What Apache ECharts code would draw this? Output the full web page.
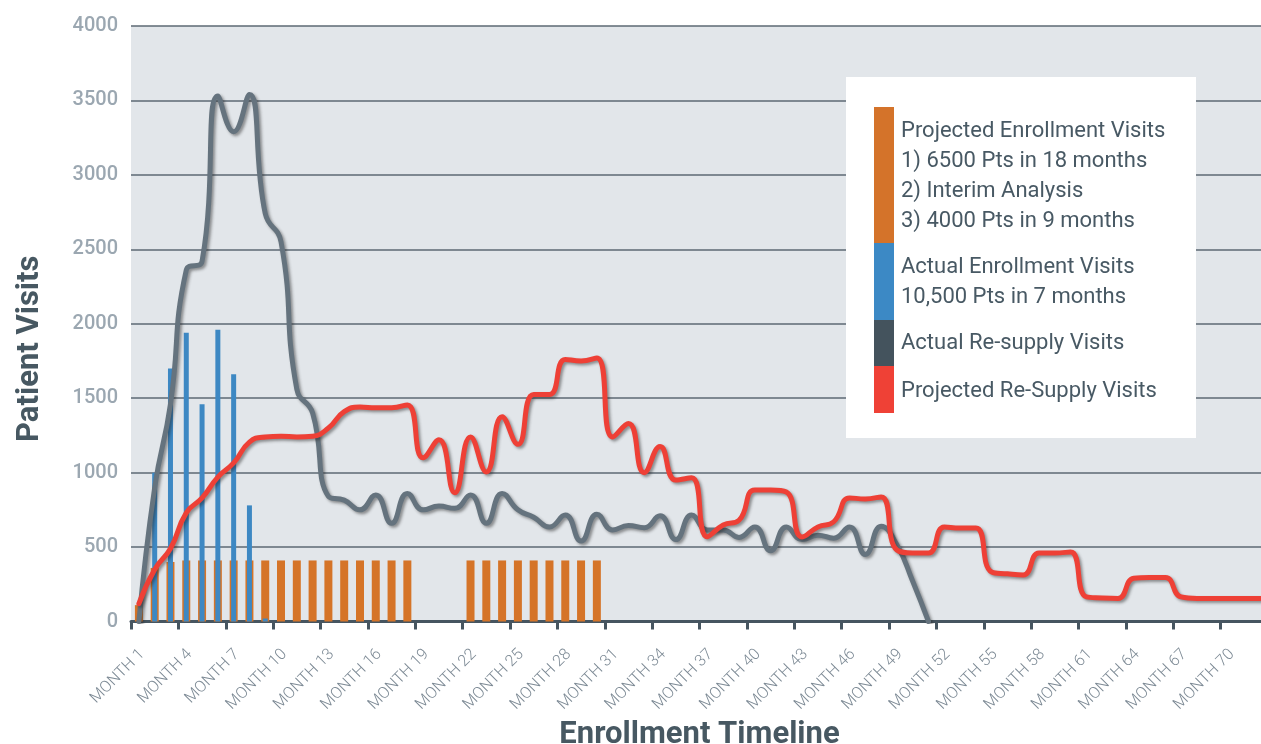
<!DOCTYPE html>
<html><head><meta charset="utf-8">
<script src="https://cdn.jsdelivr.net/npm/echarts@6/dist/echarts.min.js"></script>
<style>html,body{margin:0;padding:0;background:#fff}#c{width:1261px;height:744px}</style>
</head><body><div id="c"></div>
<script>
// 72 monthly bands (data) and 73 boundary tick labels
const months = Array.from({length: 72}, (_, i) => 'M' + (i + 1));
const tickLabels = Array.from({length: 73}, (_, i) => 'MONTH ' + (i + 1));

const projectedEnrollment = [110, 360, 400, 410, 410, 410, 410, 410, 410, 410, 410, 410, 410, 410, 410, 410, 410, 410,
  null, null, null, 410, 410, 410, 410, 410, 410, 410, 410, 410];
const actualEnrollment = [null, 1000, 1700, 1940, 1460, 1960, 1660, 780, 20];
const actualResupply = [0, 900, 1460, 2360, 2420, 3530, 3290, 3540, 2740, 2550,
  1560, 1400, 840, 815, 750, 850, 660, 860, 750, 775,
  760, 850, 660, 860, 750, 700, 635, 715, 540, 720,
  615, 645, 630, 710, 550, 715, 615, 615, 565, 635,
  475, 635, 550, 580, 560, 635, 450, 640, 515, 270, 0];
const projectedResupply = [120, 350, 490, 730, 830, 970, 1065, 1205, 1240, 1245,
  1240, 1245, 1300, 1410, 1440, 1435, 1435, 1455, 1100, 1220,
  865, 1240, 1005, 1375, 1190, 1525, 1525, 1760, 1750, 1770,
  1240, 1330, 1000, 1175, 950, 965, 570, 648, 680, 884,
  884, 870, 568, 635, 670, 830, 823, 837, 480, 460,
  460, 635, 628, 628, 333, 320, 312, 460, 460, 467,
  165, 158, 155, 290, 295, 295, 165, 155, 155, 155, 155, 155];

const legendBlocks = [
  {color: '#d4732a', lines: ['Projected Enrollment Visits', '1) 6500 Pts in 18 months', '2) Interim Analysis', '3) 4000 Pts in 9 months']},
  {color: '#3c89c5', lines: ['Actual Enrollment Visits', '10,500 Pts in 7 months']},
  {color: '#44535d', lines: ['Actual Re-supply Visits']},
  {color: '#ef4136', lines: ['Projected Re-Supply Visits']}
];

const FONT = 'Roboto, "Noto Sans", sans-serif';
const chart = echarts.init(document.getElementById('c'), null, {renderer: 'canvas'});

// legend graphics
const g = [{type: 'rect', z: 100, shape: {x: 846, y: 77, width: 350, height: 361}, style: {fill: '#ffffff'}}];
const blockGeom = [[107, 243, [131, 161, 191, 221]], [243, 320, [267, 297]], [320, 366, [343]], [366, 413, [391]]];
legendBlocks.forEach((b, k) => {
  const [y0, y1, ys] = blockGeom[k];
  g.push({type: 'rect', z: 101, shape: {x: 874, y: y0, width: 20, height: y1 - y0}, style: {fill: b.color}});
  b.lines.forEach((t, j) => g.push({type: 'text', z: 101, x: 901, y: ys[j],
    style: {text: t, fill: '#485964', font: '22px ' + FONT, textVerticalAlign: 'middle'}}));
});

const lineShadow = {shadowColor: 'rgba(30,30,30,0.45)', shadowBlur: 3, shadowOffsetX: 2, shadowOffsetY: 2};

chart.setOption({
  animation: false,
  backgroundColor: '#ffffff',
  grid: {left: 131, right: -7, top: 26, bottom: 122.5, show: true, backgroundColor: '#e2e6ea', borderWidth: 0,
    containLabel: false, outerBoundsMode: 'none'},
  xAxis: [
    {type: 'category', data: months, boundaryGap: true, show: false},
    {type: 'category', data: tickLabels, boundaryGap: false, position: 'bottom',
      axisLine: {show: true, lineStyle: {color: '#465560', width: 3}},
      axisTick: {show: true, interval: 2, length: 8, lineStyle: {color: '#465560', width: 3}},
      axisLabel: {interval: (idx) => idx % 3 === 0 && idx < 72, rotate: 45, color: '#7d8a95', fontSize: 16,
        fontFamily: FONT, fontWeight: 300, margin: 19, hideOverlap: false,
        verticalAlign: 'top', padding: [8, 0, 0, 0]},
      splitLine: {show: false},
      name: 'Enrollment Timeline', nameLocation: 'middle', nameGap: 95,
      nameTextStyle: {color: '#475862', fontSize: 31, fontWeight: 'bold', fontFamily: FONT}},
    {type: 'category', data: months, boundaryGap: true, show: false}
  ],
  yAxis: {type: 'value', min: 0, max: 4000, interval: 500,
    axisLine: {show: false}, axisTick: {show: false},
    axisLabel: {color: '#9ba7b1', fontSize: 20, fontWeight: 500, fontFamily: FONT, margin: 13,
      formatter: (v) => String(v)},
    splitLine: {show: true, lineStyle: {color: '#5c6973', width: 1.5}},
    name: 'Patient Visits', nameLocation: 'middle', nameRotate: 90, nameGap: 85,
    nameTextStyle: {color: '#475862', fontSize: 31, fontWeight: 'bold', fontFamily: FONT, padding: [0, 50, 0, 0]}},
  series: [
    {name: 'Projected Enrollment Visits', type: 'bar', xAxisIndex: 0, data: projectedEnrollment, barWidth: 8,
      itemStyle: {color: '#d57428'}, z: 2},
    {name: 'Actual Enrollment Visits', type: 'bar', xAxisIndex: 2, data: actualEnrollment, barWidth: 5,
      itemStyle: {color: '#3d88c3'}, z: 3},
    {name: 'Actual Re-supply Visits', type: 'line', xAxisIndex: 0, data: actualResupply, smooth: 0.5,
      showSymbol: false, connectNulls: false,
      lineStyle: Object.assign({color: '#65737e', width: 5, cap: 'round', join: 'round'}, lineShadow), z: 4},
    {name: 'Projected Re-Supply Visits', type: 'line', xAxisIndex: 0, data: projectedResupply, smooth: 0.5,
      showSymbol: false,
      lineStyle: Object.assign({color: '#ee4036', width: 5, cap: 'round', join: 'round'}, lineShadow), z: 5}
  ],
  graphic: g
});
</script></body></html>
